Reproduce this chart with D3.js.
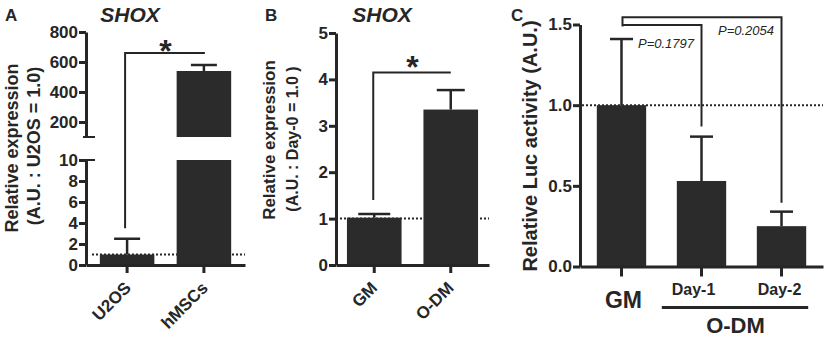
<!DOCTYPE html>
<html><head><meta charset="utf-8">
<script src="https://cdn.jsdelivr.net/npm/d3@7"></script>
<style>
body{margin:0;background:#fff}
svg text{font-family:"Liberation Sans",Arial,sans-serif;fill:#262626}
</style></head><body>
<svg id="c" width="827" height="339"></svg>
<script>
// ---------- data ----------
const catsA = ["U2OS", "hMSCs"];
const valsA = [1.0, 540];
const errA = [1.5, 40];
const ticksALow = [0, 2, 4, 6, 8, 10];
const ticksAHigh = [200, 400, 600, 800];

const catsB = ["GM", "O-DM"];
const valsB = [1.02, 3.35];
const errB = [0.08, 0.42];
const ticksB = [0, 1, 2, 3, 4, 5];

const catsC = ["GM", "Day-1", "Day-2"];
const valsC = [1.0, 0.53, 0.25];
const errC = [0.41, 0.275, 0.09];
const ticksC = [0, 0.5, 1.0, 1.5];
const pLabelsC = ["P=0.1797", "P=0.2054"];

// ---------- helpers ----------
const svg = d3.select("#c");
const INK = "#262626", BAR = "#2b2b2b";

function styleAxis(g, fs) {
  g.selectAll(".domain").attr("stroke", INK).attr("stroke-width", 3);
  g.selectAll(".tick line").attr("stroke", INK).attr("stroke-width", 3);
  g.selectAll(".tick text").attr("font-size", fs).attr("font-weight", "bold").attr("fill", INK)
    .style("font-family", '"Liberation Sans",Arial,sans-serif');
}
function yAxis(scale, ticks, fmt, x) {
  const g = svg.append("g").attr("transform", `translate(${x},0)`)
    .call(d3.axisLeft(scale).tickValues(ticks).tickFormat(fmt).tickSize(7).tickSizeOuter(0).tickPadding(1));
  styleAxis(g, 17);
  return g;
}
function xAxis(scale, y, tsize) {
  const g = svg.append("g").attr("transform", `translate(0,${y})`)
    .call(d3.axisBottom(scale).tickSize(tsize).tickSizeOuter(0).tickFormat(""));
  styleAxis(g, 17);
  g.selectAll(".tick text").remove();
  return g;
}
function dotted(x1, x2, y) {
  svg.append("line").attr("x1", x1).attr("x2", x2).attr("y1", y).attr("y2", y)
    .attr("stroke", INK).attr("stroke-width", 2).attr("stroke-dasharray", "2,2");
}
function errBar(cx, y0, y1, hw) {
  svg.append("line").attr("x1", cx).attr("x2", cx).attr("y1", y0).attr("y2", y1)
    .attr("stroke", INK).attr("stroke-width", 2.5);
  svg.append("line").attr("x1", cx - hw).attr("x2", cx + hw).attr("y1", y1).attr("y2", y1)
    .attr("stroke", INK).attr("stroke-width", 2.5);
}
function path(d) {
  svg.append("path").attr("d", d).attr("fill", "none").attr("stroke", INK).attr("stroke-width", 2);
}
function text(x, y, s, fs, opts = {}) {
  const t = svg.append("text").attr("x", x).attr("y", y).text(s).attr("font-size", fs)
    .attr("font-weight", opts.weight || "bold").attr("text-anchor", opts.anchor || "middle");
  if (opts.italic) t.attr("font-style", "italic");
  if (opts.fill) t.attr("fill", opts.fill);
  if (opts.rotate !== undefined) t.attr("transform", `rotate(${opts.rotate},${x},${y})`);
  return t;
}

// ================= Panel A =================
const xA = d3.scaleBand(catsA, [86, 245]).paddingInner(0.29).paddingOuter(0.18);
const yLow = d3.scaleLinear([0, 10], [265, 160]);
const yHigh = d3.scaleLinear([100, 800], [137, 32]);
const yA = v => v > 10 ? yHigh(v) : yLow(v);

dotted(92, 245, yLow(1));
catsA.forEach((c, i) => {
  const v = valsA[i];
  if (v > 10) {
    svg.append("rect").attr("x", xA(c)).attr("width", xA.bandwidth())
      .attr("y", yLow(10)).attr("height", yLow(0) - yLow(10)).attr("fill", BAR);
    svg.append("rect").attr("x", xA(c)).attr("width", xA.bandwidth())
      .attr("y", yHigh(v)).attr("height", yHigh(100) - yHigh(v)).attr("fill", BAR);
  } else {
    svg.append("rect").attr("x", xA(c)).attr("width", xA.bandwidth())
      .attr("y", yLow(v)).attr("height", yLow(0) - yLow(v)).attr("fill", BAR);
  }
  errBar(xA(c) + xA.bandwidth() / 2, yA(v), yA(v + errA[i]), 13);
});
yAxis(yLow, ticksALow, d3.format("d"), 86);
yAxis(yHigh, ticksAHigh, d3.format("d"), 86);
// break caps
path(`M83,${yHigh(100)}H95`);
path(`M83,${yLow(10)}H95`);
xAxis(xA.copy().range([86, 245]), 265, 8);
catsA.forEach(c => text(xA(c) + xA.bandwidth() / 2 + 5, 289, c, 17, {anchor: "end", rotate: -45}));
// significance
const cA0 = xA(catsA[0]) + xA.bandwidth() / 2, cA1 = xA(catsA[1]) + xA.bandwidth() / 2;
path(`M${cA0 - 2},${yLow(3.5)}V${yHigh(660)}H${cA1 + 1}`);
text((cA0 + cA1) / 2, 62, "*", 32);
text(130, 22, "SHOX", 21, {italic: true});
text(5, 21, "A", 17, {anchor: "start"});
text(18, 148, "Relative expression", 18, {rotate: -90});
text(40, 146, "(A.U. : U2OS = 1.0)", 18, {rotate: -90});

// ================= Panel B =================
const xB = d3.scaleBand(catsB, [336, 489]).paddingInner(0.286).paddingOuter(0.143);
const yB = d3.scaleLinear([0, 5], [265, 33]);
dotted(340, 489, yB(1));
catsB.forEach((c, i) => {
  svg.append("rect").attr("x", xB(c)).attr("width", xB.bandwidth())
    .attr("y", yB(valsB[i])).attr("height", yB(0) - yB(valsB[i])).attr("fill", BAR);
  errBar(xB(c) + xB.bandwidth() / 2, yB(valsB[i]), yB(valsB[i] + errB[i]), i === 0 ? 16 : 14);
});
yAxis(yB, ticksB, d3.format("d"), 336);
xAxis(xB, 265, 8);
catsB.forEach(c => text(xB(c) + xB.bandwidth() / 2 + 4, 289, c, 17, {anchor: "end", rotate: -45}));
const cB0 = xB(catsB[0]) + xB.bandwidth() / 2, cB1 = xB(catsB[1]) + xB.bandwidth() / 2;
path(`M${cB0 - 1},${yB(1.4)}V${yB(4.15)}H${cB1}`);
text((cB0 + cB1) / 2, 78, "*", 32);
text(382, 22, "SHOX", 21, {italic: true});
text(265, 21, "B", 17, {anchor: "start"});
text(275, 140, "Relative expression", 17, {rotate: -90});
text(298, 139, "(A.U. : Day-0 = 1.0 )", 16, {rotate: -90});

// ================= Panel C =================
const xC = d3.scaleBand(catsC, [580, 823]).paddingInner(0.383).paddingOuter(0.21);
const yC = d3.scaleLinear([0, 1.5], [266.5, 24.5]);
dotted(582, 823, yC(1));
catsC.forEach((c, i) => {
  svg.append("rect").attr("x", xC(c)).attr("width", xC.bandwidth())
    .attr("y", yC(valsC[i])).attr("height", yC(0) - yC(valsC[i])).attr("fill", BAR);
  errBar(xC(c) + xC.bandwidth() / 2, yC(valsC[i]), yC(valsC[i] + errC[i]), 11.5);
});
yAxis(yC, ticksC, d3.format(".1f"), 580);
xAxis(xC, 266.5, 10);
const cc = c => xC(c) + xC.bandwidth() / 2;
// brackets
path(`M${cc("GM") + 1},${yC(1.487)}V${yC(1.545)}H${cc("Day-2")}V${yC(0.395)}`);
path(`M${cc("GM") + 1},${yC(1.497)}H${cc("Day-1")}V${yC(0.867)}`);
text(638, 48, pLabelsC[0], 13, {anchor: "start", italic: true, weight: "normal", fill: "#444"});
text(718, 35, pLabelsC[1], 13, {anchor: "start", italic: true, weight: "normal", fill: "#444"});
text(cc("GM") + 2, 308, "GM", 23);
text(cc("Day-1") - 8, 295, "Day-1", 16);
text(cc("Day-2") - 2, 295, "Day-2", 16);
svg.append("line").attr("x1", xC("Day-1") - 15).attr("x2", xC("Day-2") + xC.bandwidth() + 2)
  .attr("y1", 307.5).attr("y2", 307.5).attr("stroke", INK).attr("stroke-width", 3);
text((cc("Day-1") + cc("Day-2")) / 2 - 6, 333, "O-DM", 22);
text(511, 21, "C", 17, {anchor: "start"});
text(537, 146, "Relative Luc activity (A.U.)", 20, {rotate: -90});
</script>
</body></html>
